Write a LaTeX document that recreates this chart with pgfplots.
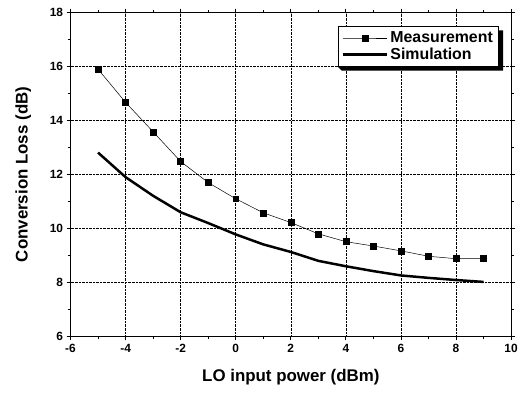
\documentclass[border={12bp 4bp 5bp 5bp}]{standalone}
\usepackage{fontspec}
\setmainfont{Liberation Sans}
\usepackage{pgfplots}
\pgfplotsset{compat=1.18}
\begin{document}
\begin{tikzpicture}
\begin{axis}[
  scale only axis,
  width=442bp, height=325bp,
  xmin=-6, xmax=10, ymin=6, ymax=18,
  xtick={-6,-4,...,10}, ytick={6,8,...,18},
  minor x tick num=1, minor y tick num=1,
  grid=major,
  major grid style={black, densely dotted, line width=0.5pt},
  axis line style={line width=0.9pt},
  tick style={black, line width=0.8pt},
  tick align=outside,
  major tick length=4bp, minor tick length=2.5bp,
  /pgf/number format/assume math mode=true,
  ticklabel style={font=\bfseries\fontsize{12}{13}\selectfont},
  xlabel={LO input power (dBm)},
  ylabel={Conversion Loss (dB)},
  label style={font=\bfseries\fontsize{17}{19}\selectfont},
  xlabel style={yshift=-10bp},
  ylabel style={yshift=12bp},
  legend style={name=leg, at={(0.973,0.957)}, anchor=north east, draw=black, line width=0.8pt,
    font=\bfseries\fontsize{16}{18}\selectfont, inner xsep=4pt, inner ysep=3pt, row sep=0pt},
  legend cell align=left,
  legend image code/.code={\draw[mark repeat=2,mark phase=2,#1] plot coordinates {(0bp,0bp) (22bp,0bp) (44bp,0bp)};},
]
\addplot[black, line width=0.5pt, mark=square*, mark size=3pt, mark options={solid}] coordinates {
(-5,15.9) (-4,14.67) (-3,13.58) (-2,12.48) (-1,11.7) (0,11.1) (1,10.58) (2,10.22) (3,9.8) (4,9.51) (5,9.35) (6,9.17) (7,8.97) (8,8.88) (9,8.88)
};
\addlegendentry{Measurement}
\addplot[black, line width=2.5pt, no marks] coordinates {
(-5,12.81) (-4,11.9) (-3,11.21) (-2,10.6) (-1,10.2) (0,9.78) (1,9.41) (2,9.13) (3,8.8) (4,8.6) (5,8.42) (6,8.26) (7,8.17) (8,8.09) (9,8.02)
};
\addlegendentry{Simulation}
\end{axis}
\fill[black] ([yshift=-4bp]leg.north east) -- ([xshift=4bp,yshift=-4bp]leg.north east)
  -- ([xshift=4bp,yshift=-4bp]leg.south east) -- ([xshift=4bp,yshift=-4bp]leg.south west)
  -- (leg.south west) -- (leg.south east) -- cycle;
\end{tikzpicture}
\end{document}
